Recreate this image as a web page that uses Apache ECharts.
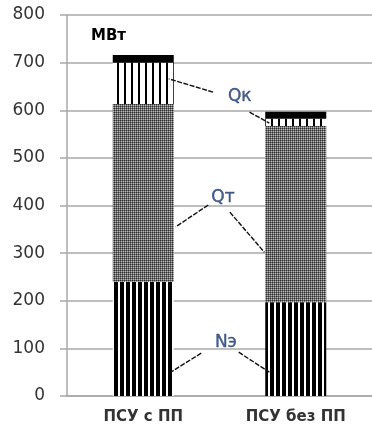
<!DOCTYPE html>
<html><head><meta charset="utf-8">
<script src="https://cdn.jsdelivr.net/npm/echarts@6/dist/echarts.min.js"></script>
<style>html,body{margin:0;padding:0;background:#fff}#c{width:372px;height:437px}</style>
</head><body><div id="c"></div>
<script>
// ---- data ----
const categories = ['ПСУ с ПП', 'ПСУ без ПП'];
const yTicks = [0, 100, 200, 300, 400, 500, 600, 700, 800];
const nE  = [240, 197];   // Nэ
const qT  = [373, 370];   // Qт
const qK  = [87, 15];     // Qк
const cap = [16, 15];     // black top band
const unitLabel = 'МВт';
// annotation labels: [x on 0..2 category span, value, text]
const labelPts = [[1.133, 628, 'Qк'], [1.023, 416, 'Qт'], [1.042, 113, 'Nэ']];
// leader lines: pairs of [x, value]
const leaders = [
  [[0.958, 638], [0.667, 666]],
  [[1.197, 596], [1.327, 573]],
  [[0.926, 401], [0.712, 355]],
  [[1.068, 386], [1.294, 302]],
  [[0.880, 90], [0.680, 50]],
  [[1.126, 92], [1.327, 50]]
];

function pat(w, h, draw) {
  const c = document.createElement('canvas');
  c.width = w; c.height = h;
  const g = c.getContext('2d');
  g.fillStyle = '#fff'; g.fillRect(0, 0, w, h);
  draw(g);
  return { image: c, repeat: 'repeat' };
}
const patN = pat(6, 4, g => { g.fillStyle = '#000'; g.fillRect(0, 0, 4, 4); });
const patK = pat(7, 4, g => { g.fillStyle = '#000'; g.fillRect(5, 0, 2, 4); });
const patT = pat(2, 2, g => {
  g.fillStyle = '#2e2e2e'; g.fillRect(0, 0, 1, 1);
  g.fillStyle = '#6e6e6e'; g.fillRect(1, 0, 1, 1); g.fillRect(0, 1, 1, 1);
  g.fillStyle = '#b8b8b8'; g.fillRect(1, 1, 1, 1);
});

const chart = echarts.init(document.getElementById('c'), null, { renderer: 'canvas' });
const gridColor = '#a8a8a8';
const series = [
  { name: 'Nэ', type: 'bar', stack: 't', barWidth: '40%', data: nE, itemStyle: { color: patN } },
  { name: 'Qт', type: 'bar', stack: 't', data: qT, itemStyle: { color: patT } },
  { name: 'Qк', type: 'bar', stack: 't', data: qK, itemStyle: { color: patK } },
  { name: 'cap', type: 'bar', stack: 't', data: cap, itemStyle: { color: '#000' } }
];
leaders.forEach(seg => series.push({
  type: 'line', xAxisIndex: 1, yAxisIndex: 0, data: seg, symbol: 'none', silent: true,
  lineStyle: { color: '#111', width: 1.4, type: [5, 1.5] }, z: 5
}));
series.push({
  type: 'scatter', xAxisIndex: 1, yAxisIndex: 0, symbolSize: 1,
  itemStyle: { color: 'rgba(0,0,0,0)' }, z: 6,
  data: labelPts.map(p => ({ value: [p[0], p[1]], name: p[2] })),
  label: { show: true, position: 'inside', formatter: p => p.name,
    fontFamily: 'DejaVu Sans', fontSize: 17, color: '#1a3670',
    textBorderColor: '#1a3670', textBorderWidth: 0.4 }
});

chart.setOption({
  animation: false,
  title: { text: unitLabel, left: 86, top: 24,
    textStyle: { fontFamily: 'DejaVu Sans', fontWeight: 'bold', fontSize: 15, color: '#000' } },
  grid: { left: 67, right: -4, top: 15, bottom: 41, containLabel: false },
  xAxis: [
    { type: 'category', data: categories,
      axisLine: { show: true, lineStyle: { color: gridColor, width: 1.5 } },
      axisTick: { show: false },
      axisLabel: { margin: 14, fontFamily: 'DejaVu Sans', fontWeight: 'bold', fontSize: 15, color: '#333' } },
    { type: 'value', min: 0, max: 2, show: false }
  ],
  yAxis: {
    type: 'value', min: yTicks[0], max: yTicks[yTicks.length - 1], interval: yTicks[1] - yTicks[0],
    axisLine: { show: true, lineStyle: { color: gridColor, width: 1.5 } },
    axisTick: { show: true, length: 7, lineStyle: { color: gridColor, width: 1.5 } },
    splitLine: { lineStyle: { color: gridColor, width: 1.5 } },
    axisLabel: { margin: 22, fontFamily: 'DejaVu Sans', fontSize: 17, color: '#333' }
  },
  series: series
});
</script></body></html>
